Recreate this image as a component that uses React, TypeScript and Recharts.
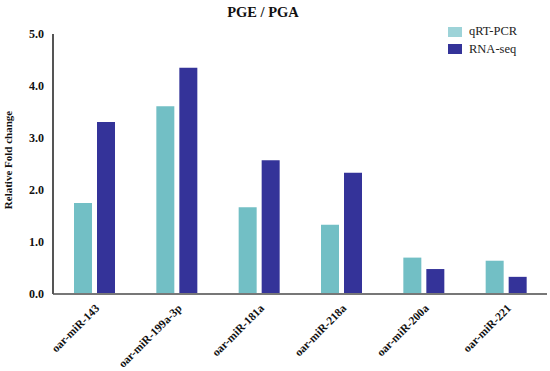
import React from 'react';
import { BarChart, Bar, XAxis, YAxis, Legend } from 'recharts';

const categories = ['oar-miR-143', 'oar-miR-199a-3p', 'oar-miR-181a', 'oar-miR-218a', 'oar-miR-200a', 'oar-miR-221'];
const qrtPcr = [1.75, 3.61, 1.67, 1.33, 0.7, 0.64];
const rnaSeq = [3.31, 4.35, 2.57, 2.33, 0.48, 0.33];
const yTicks = [0, 1, 2, 3, 4, 5];
const seriesNames = ['qRT-PCR', 'RNA-seq'];
const title = 'PGE / PGA';
const yLabel = 'Relative Fold change';

const data = categories.map((c, i) => ({ name: c, qrt: qrtPcr[i], rna: rnaSeq[i] }));

const FONT = 'Liberation Serif';
const QRT_COLOR = '#72bfc5';
const RNA_COLOR = '#343399';

const XTick = (props: any) => {
  const { x, y, payload } = props;
  const ax = x + 6;
  const ay = y + 15;
  return (
    <text
      x={ax}
      y={ay}
      transform={`rotate(-45, ${ax}, ${ay})`}
      textAnchor="end"
      fontFamily={FONT}
      fontWeight="bold"
      fontSize={11.5}
      fill="#111"
    >
      {payload.value}
    </text>
  );
};

const YLabel = () => {
  const x = 8;
  const y = 160;
  return (
    <text
      x={x}
      y={y}
      transform={`rotate(-90, ${x}, ${y})`}
      textAnchor="middle"
      dominantBaseline="central"
      fontFamily={FONT}
      fontWeight="bold"
      fontSize={11}
      fill="#111"
    >
      {yLabel}
    </text>
  );
};

const LegendContent = (props: any) => {
  const payload = [...(props.payload || [])].sort(
    (a: any, b: any) => seriesNames.indexOf(a.value) - seriesNames.indexOf(b.value)
  );
  const patchColors: Record<string, string> = { qrt: '#9dd3d8', rna: RNA_COLOR };
  return (
    <div style={{ fontFamily: FONT, fontSize: 12.5, color: '#222' }}>
      {payload.map((p: any, i: number) => (
        <div key={i} style={{ display: 'flex', alignItems: 'center', height: 17.5 }}>
          <div style={{ width: 14, height: 10, background: patchColors[p.dataKey] || p.color, marginRight: 7 }} />
          <span>{p.value}</span>
        </div>
      ))}
    </div>
  );
};

export default function App() {
  return (
    <div style={{ position: 'absolute', left: 0, top: 0, width: 550, height: 371, background: '#fff' }}>
      <div
        style={{
          position: 'absolute',
          left: 213,
          width: 100,
          top: 4,
          textAlign: 'center',
          fontFamily: FONT,
          fontWeight: 'bold',
          fontSize: 14.5,
          color: '#111',
          zIndex: 2,
        }}
      >
        {title}
      </div>
      <BarChart
        width={550}
        height={371}
        data={data}
        margin={{ top: 34, right: 3, left: 0, bottom: 0 }}
        barSize={18}
        barGap={5}
      >
        <XAxis
          dataKey="name"
          height={77}
          tickLine={false}
          tickSize={0}
          tickMargin={0}
          interval={0}
          tick={<XTick />}
          axisLine={{ stroke: '#777', strokeWidth: 2 }}
        />
        <YAxis
          width={53}
          domain={[0, 5]}
          ticks={yTicks}
          interval={0}
          tickLine={false}
          tickSize={0}
          tickMargin={9}
          tickFormatter={(v: number) => v.toFixed(1)}
          tick={{ fontFamily: FONT, fontWeight: 'bold', fontSize: 12, fill: '#111' }}
          axisLine={{ stroke: '#555', strokeWidth: 2 }}
          label={<YLabel />}
        />
        <Legend
          layout="vertical"
          verticalAlign="middle"
          align="center"
          content={<LegendContent />}
          wrapperStyle={{ position: 'absolute', left: 448, top: 23, width: 100 }}
        />
        <Bar dataKey="qrt" name={seriesNames[0]} fill={QRT_COLOR} isAnimationActive={false} />
        <Bar dataKey="rna" name={seriesNames[1]} fill={RNA_COLOR} isAnimationActive={false} />
      </BarChart>
    </div>
  );
}
